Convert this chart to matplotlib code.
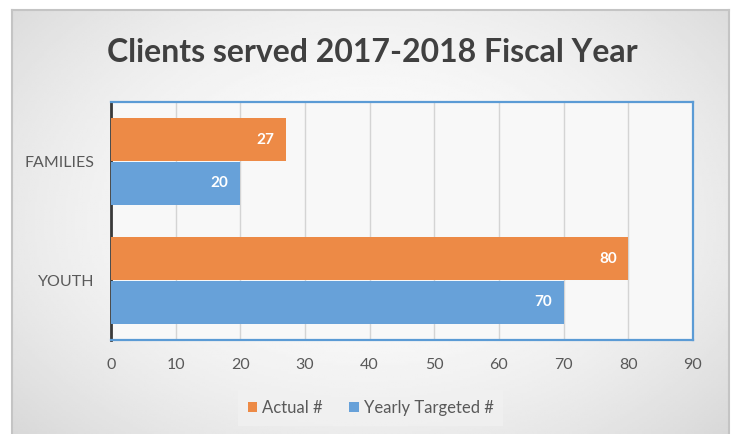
import numpy as np
import matplotlib
matplotlib.use('Agg')
import matplotlib.pyplot as plt
from matplotlib.patches import Patch

categories = ['FAMILIES', 'YOUTH']
actual = [27, 80]
targeted = [20, 70]
series_names = ['Actual #', 'Yearly Targeted #']
xticks = [0, 10, 20, 30, 40, 50, 60, 70, 80, 90]

orange = '#ED8A46'
blue = '#67A1D9'
text_gray = '#595959'

plt.rcParams['font.family'] = ['Lato', 'DejaVu Sans']

fig = plt.figure(figsize=(7.34, 4.34), dpi=100)
fig.patch.set_facecolor('white')

# chart frame with soft gray gradient
bg = fig.add_axes([12 / 734, 0, (729 - 12) / 734, (434 - 10) / 434], zorder=-2)
gx, gy = np.meshgrid(np.linspace(-1, 1, 300), np.linspace(-1, 1, 200))
shade = 0.99 - 0.085 * (gx ** 2 * 0.9 + gy ** 2 * 0.6)
shade[gy > 0.2] -= 0.02 * (gy[gy > 0.2] - 0.2)
bg.imshow(shade, cmap='gray', vmin=0, vmax=1, aspect='auto', extent=[0, 1, 0, 1], origin='upper')
bg.set_xticks([])
bg.set_yticks([])
for side in ['top', 'left', 'right']:
    bg.spines[side].set_color('#c4c4c4')
    bg.spines[side].set_linewidth(1.5)
bg.spines['bottom'].set_visible(False)

ax = fig.add_axes([111 / 734, (434 - 340) / 434, (693 - 111) / 734, (340 - 102) / 434])
ax.set_facecolor('#f8f8f8')

y = np.arange(len(categories))
h = 0.36
off = 0.184
bars_a = ax.barh(y - off, actual, height=h, color=orange, zorder=3)
bars_t = ax.barh(y + off, targeted, height=h, color=blue, zorder=3)

for bars, vals in [(bars_a, actual), (bars_t, targeted)]:
    for b, v in zip(bars, vals):
        ax.text(v - 1.8, b.get_y() + b.get_height() / 2, str(v), ha='right', va='center',
                color='white', fontsize=11, fontweight='bold', zorder=4)

ax.set_xlim(0, 90)
ax.set_ylim(1.5, -0.5)
ax.set_xticks(xticks)
ax.set_yticks(y)
ax.set_yticklabels(categories)
ax.tick_params(axis='both', length=0, labelsize=11.5, colors=text_gray)
ax.tick_params(axis='x', pad=13)
ax.tick_params(axis='y', pad=12)
ax.grid(axis='x', color='#d4d4d4', linewidth=1, zorder=1)

for side in ['top', 'right', 'bottom']:
    ax.spines[side].set_color('#5B9BD5')
    ax.spines[side].set_linewidth(1.6)
ax.spines['left'].set_color('#3a3a3a')
ax.spines['left'].set_linewidth(2)

fig.text(0.507, 0.88, 'Clients served 2017-2018 Fiscal Year', ha='center', va='center',
         fontsize=23, fontweight='bold', color='#404040')

handles = [Patch(facecolor=orange), Patch(facecolor=blue)]
leg = fig.legend(handles, series_names, loc='center', bbox_to_anchor=(0.505, 0.06),
                 ncol=2, frameon=True, fontsize=12, handlelength=0.55, handleheight=0.55,
                 handletextpad=0.3, columnspacing=1.6, borderpad=0.6, borderaxespad=0,
                 fancybox=False)
leg.get_frame().set_facecolor('#f1f1f1')
leg.get_frame().set_edgecolor('none')
for t in leg.get_texts():
    t.set_color(text_gray)

fig.savefig('out.png', dpi=100)
